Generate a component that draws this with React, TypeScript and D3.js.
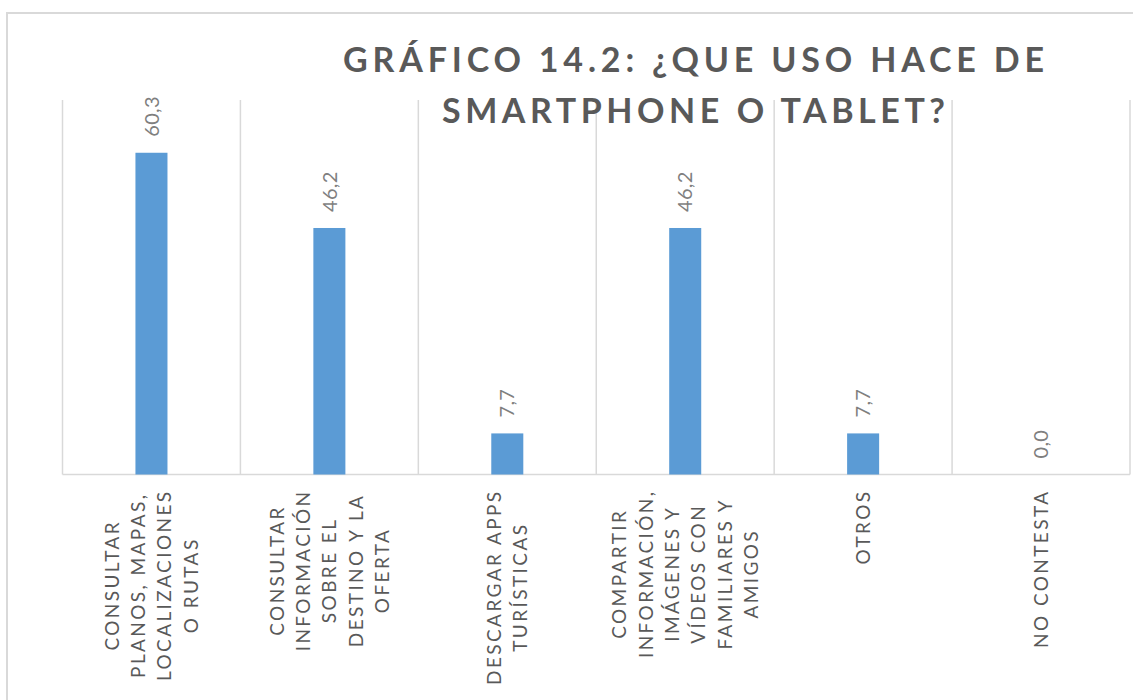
import React, { useEffect, useRef } from "react";
import * as d3 from "d3";

const categories = [
  "CONSULTAR\nPLANOS, MAPAS,\nLOCALIZACIONES\nO RUTAS",
  "CONSULTAR\nINFORMACIÓN\nSOBRE EL\nDESTINO Y LA\nOFERTA",
  "DESCARGAR APPS\nTURÍSTICAS",
  "COMPARTIR\nINFORMACIÓN,\nIMÁGENES Y\nVÍDEOS CON\nFAMILIARES Y\nAMIGOS",
  "OTROS",
  "NO CONTESTA",
];
const values = [60.3, 46.2, 7.7, 46.2, 7.7, 0.0];
const yDomain = [0, 70];
const titleLines = ["GRÁFICO 14.2: ¿QUE USO HACE DE", "SMARTPHONE O TABLET?"];

const W = 1133;
const H = 700;
const FONT = "Lato, 'Open Sans', sans-serif";

export default function App() {
  const ref = useRef<SVGSVGElement | null>(null);

  useEffect(() => {
    const svg = d3.select(ref.current);
    svg.selectAll("*").remove();

    const plotLeft = 62.5;
    const plotRight = 1130;
    const plotTop = 101;
    const plotBottom = 474.5;

    const x = d3.scaleBand<string>().domain(categories).range([plotLeft, plotRight]).padding(0);
    const y = d3.scaleLinear().domain(yDomain).range([plotBottom, plotTop]);

    // outer border
    svg.append("rect")
      .attr("x", 7).attr("y", 13)
      .attr("width", W + 20).attr("height", H + 20)
      .attr("fill", "#fff")
      .attr("stroke", "#d9d9d9").attr("stroke-width", 2);

    const gridColor = "#d9d9d9";
    // vertical category gridlines
    const bounds = categories.map((c) => x(c) as number).concat([plotRight]);
    svg.append("g").selectAll("line").data(bounds).join("line")
      .attr("x1", (d) => d).attr("x2", (d) => d)
      .attr("y1", y(yDomain[1]) - 1).attr("y2", y(0))
      .attr("stroke", gridColor).attr("stroke-width", 1.5);

    // baseline
    svg.append("line")
      .attr("x1", plotLeft).attr("x2", plotRight)
      .attr("y1", y(0)).attr("y2", y(0))
      .attr("stroke", gridColor).attr("stroke-width", 1.5);

    // bars
    const bw = x.bandwidth() * 0.18;
    svg.append("g").selectAll("rect").data(values).join("rect")
      .attr("x", (d, i) => (x(categories[i]) as number) + x.bandwidth() / 2 - bw / 2)
      .attr("y", (d) => y(d))
      .attr("width", bw)
      .attr("height", (d) => y(0) - y(d))
      .attr("fill", "#5b9bd5");

    // value labels
    const fmt = (v: number) => d3.format(".1f")(v).replace(".", ",");
    svg.append("g").selectAll("text").data(values).join("text")
      .attr("transform", (d, i) => {
        const cx = (x(categories[i]) as number) + x.bandwidth() / 2;
        return `translate(${cx},${y(d) - 16}) rotate(-90)`;
      })
      .attr("dy", "0.36em")
      .attr("text-anchor", "start")
      .attr("font-family", FONT)
      .attr("font-size", 20)
      .attr("letter-spacing", 0.3)
      .attr("fill", "#7f7f7f")
      .text((d) => fmt(d));

    // category labels
    const lineGap = 26.3;
    const labelTop = y(0) + 15;
    const catG = svg.append("g");
    categories.forEach((cat, i) => {
      const lines = cat.split("\n");
      const cx = (x(cat) as number) + x.bandwidth() / 2;
      const texts = lines.map((ln) =>
        catG.append("text")
          .attr("text-anchor", "middle")
          .attr("dy", "0.36em")
          .attr("font-family", FONT)
          .attr("font-size", 19)
          .attr("letter-spacing", 2.4)
          .attr("fill", "#595959")
          .text(ln)
      );
      let maxLen = 0;
      texts.forEach((t) => {
        const n = t.node() as SVGTextElement;
        maxLen = Math.max(maxLen, n.getComputedTextLength());
      });
      const cy = labelTop + maxLen / 2;
      texts.forEach((t, j) => {
        const lx = cx + (j - (lines.length - 1) / 2) * lineGap;
        t.attr("transform", `translate(${lx},${cy}) rotate(-90)`);
      });
    });

    // title
    const titleCx = 693.5;
    const titleWidths = [701, 503];
    const titleBase = [72, 123];
    titleLines.forEach((t, i) => {
      svg.append("text")
        .attr("x", titleCx - titleWidths[i] / 2)
        .attr("y", titleBase[i])
        .attr("textLength", titleWidths[i])
        .attr("lengthAdjust", "spacing")
        .attr("font-family", FONT)
        .attr("font-weight", 700)
        .attr("font-size", 34)
        .attr("fill", "#595959")
        .text(t);
    });
  }, []);

  return (
    <svg
      ref={ref}
      width={W}
      height={H}
      style={{ position: "absolute", left: 0, top: 0, background: "#fff" }}
    />
  );
}
